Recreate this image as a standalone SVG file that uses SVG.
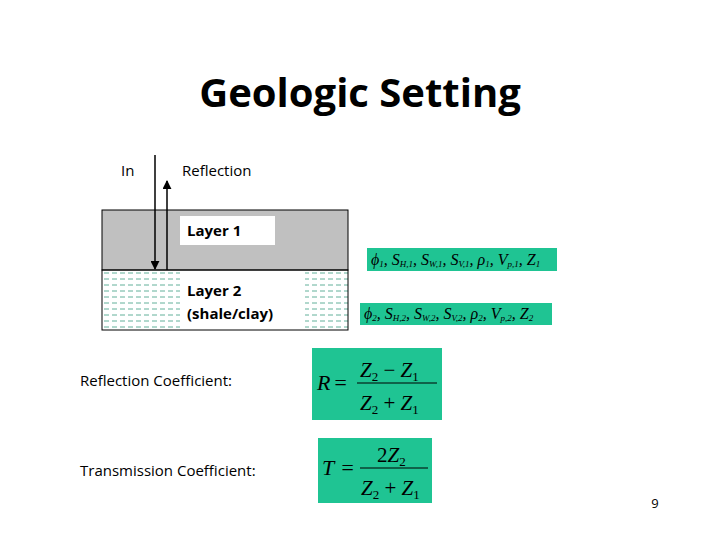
<svg xmlns="http://www.w3.org/2000/svg" width="720" height="540" viewBox="0 0 720 540">
<defs>
<style>
.s{font-family:"Open Sans","Liberation Sans",sans-serif;font-size:15px;fill:#000}
.m{font-family:"Liberation Serif",serif;font-style:italic;fill:#000}
.g{fill:#1fc493}
</style>
<marker id="a" viewBox="0 0 10 10" refX="9" refY="5" markerWidth="6" markerHeight="6" orient="auto"><path d="M0,0L10,5L0,10z" fill="#000"/></marker>
<pattern id="p" width="8" height="6" patternUnits="userSpaceOnUse"><line x1="0" y1="3" x2="5" y2="3" stroke="#3a9a80" stroke-width="0.8"/></pattern>
</defs>
<rect width="720" height="540" fill="#fff"/>
<text x="360" y="107" text-anchor="middle" font-family="Open Sans,Liberation Sans,sans-serif" font-size="40" font-weight="bold">Geologic Setting</text>
<text class="s" x="121" y="176">In</text>
<text class="s" x="182" y="176">Reflection</text>
<g id="layer1"><rect x="102" y="210" width="246" height="60" fill="#c0c0c0" stroke="#000"/><rect x="180" y="216" width="95" height="29" fill="#fff"/><text class="s" x="187" y="236" font-weight="bold">Layer 1</text></g>
<g id="layer2"><rect x="102" y="270" width="246" height="60" fill="url(#p)" stroke="#000"/><rect x="180" y="272" width="125" height="56" fill="#fff"/><text class="s" x="187" y="296" font-weight="bold">Layer 2</text><text class="s" x="187" y="319" font-weight="bold">(shale/clay)</text></g>
<g id="connectors"><line x1="155" y1="155" x2="155" y2="269" stroke="#000" stroke-width="1.5" marker-end="url(#a)"/><line x1="167" y1="270" x2="167" y2="181" stroke="#000" stroke-width="1.5" marker-end="url(#a)"/></g>
<g id="props1"><rect class="g" x="367" y="248" width="190" height="23"/><text class="m" x="371" y="265" font-size="16">ϕ<tspan font-size="9" dy="2">1</tspan><tspan dy="-2">, S</tspan><tspan font-size="9" dy="2">H,1</tspan><tspan dy="-2">, S</tspan><tspan font-size="9" dy="2">W,1</tspan><tspan dy="-2">, S</tspan><tspan font-size="9" dy="2">V,1</tspan><tspan dy="-2">, ρ</tspan><tspan font-size="9" dy="2">1</tspan><tspan dy="-2">, V</tspan><tspan font-size="9" dy="2">p,1</tspan><tspan dy="-2">, Z</tspan><tspan font-size="9" dy="2">1</tspan></text></g>
<g id="props2"><rect class="g" x="360" y="303" width="192" height="22"/><text class="m" x="364" y="319" font-size="16">ϕ<tspan font-size="9" dy="2">2</tspan><tspan dy="-2">, S</tspan><tspan font-size="9" dy="2">H,2</tspan><tspan dy="-2">, S</tspan><tspan font-size="9" dy="2">W,2</tspan><tspan dy="-2">, S</tspan><tspan font-size="9" dy="2">V,2</tspan><tspan dy="-2">, ρ</tspan><tspan font-size="9" dy="2">2</tspan><tspan dy="-2">, V</tspan><tspan font-size="9" dy="2">p,2</tspan><tspan dy="-2">, Z</tspan><tspan font-size="9" dy="2">2</tspan></text></g>
<text class="s" x="80" y="386">Reflection Coefficient:</text>
<text class="s" x="80" y="476">Transmission Coefficient:</text>
<g id="R"><rect class="g" x="312" y="348" width="130" height="72"/><text class="m" x="317" y="390" font-size="22">R</text><text class="m" x="333" y="390" font-size="22" font-style="normal">=</text><text class="m" x="360" y="377" font-size="21">Z<tspan font-size="13" font-style="normal" dy="4">2</tspan><tspan dy="-4" font-style="normal"> − </tspan>Z<tspan font-size="13" font-style="normal" dy="4">1</tspan></text><line x1="357" y1="383" x2="437" y2="383" stroke="#000"/><text class="m" x="360" y="410" font-size="21">Z<tspan font-size="13" font-style="normal" dy="4">2</tspan><tspan dy="-4" font-style="normal"> + </tspan>Z<tspan font-size="13" font-style="normal" dy="4">1</tspan></text></g>
<g id="T"><rect class="g" x="318" y="438" width="114" height="65" /><text class="m" x="322" y="475" font-size="22">T</text><text class="m" x="340" y="475" font-size="22" font-style="normal">=</text><text class="m" x="377" y="462" font-size="21"><tspan font-style="normal">2</tspan>Z<tspan font-size="13" font-style="normal" dy="4">2</tspan></text><line x1="360" y1="468" x2="428" y2="468" stroke="#000"/><text class="m" x="361" y="495" font-size="21">Z<tspan font-size="13" font-style="normal" dy="4">2</tspan><tspan dy="-4" font-style="normal"> + </tspan>Z<tspan font-size="13" font-style="normal" dy="4">1</tspan></text></g>
<text x="655" y="508" text-anchor="middle" font-family="Open Sans,Liberation Sans,sans-serif" font-size="13">9</text>
</svg>
